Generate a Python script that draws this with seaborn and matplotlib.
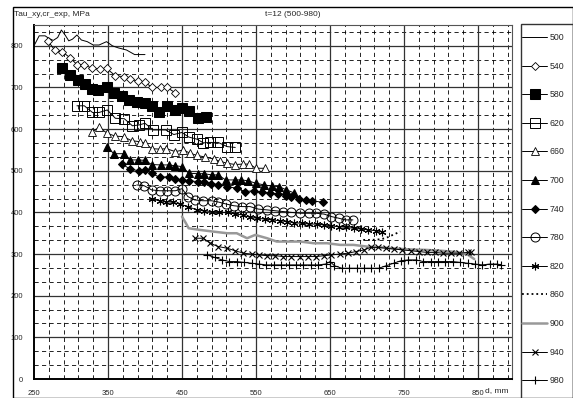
import numpy as np
import pandas as pd
import matplotlib
matplotlib.use("Agg")
import matplotlib.pyplot as plt
import seaborn as sns
from matplotlib.patches import Rectangle

sns.set_style("white")
plt.rcParams['font.family'] = ['Liberation Sans', 'DejaVu Sans']

title_left = "Tau_xy,cr_exp, MPa"
title_center = "t=12 (500-980)"
x_label = "d, mm"
x_ticks = [250, 350, 450, 550, 650, 750, 850]
y_ticks = [0, 100, 200, 300, 400, 500, 600, 700, 800]

d500 = [250, 257, 265, 270, 276, 282, 287, 292, 297, 302, 308, 314, 322, 330, 338, 348, 356, 364, 375, 386, 400]
t500 = [800, 824, 824, 818, 813, 820, 838, 826, 812, 816, 826, 814, 810, 802, 802, 810, 800, 795, 790, 779, 779]

d540 = [269, 278, 288, 299, 308, 317, 328, 339, 348, 360, 371, 380, 391, 400, 410, 421, 430, 441]
t540 = [811, 790, 786, 771, 755, 754, 747, 744, 746, 728, 726, 720, 715, 712, 700, 700, 700, 687]

d580 = [288, 299, 310, 319, 328, 337, 348, 358, 369, 378, 389, 400, 410, 419, 430, 441, 450, 459, 471, 482]
t580 = [747, 731, 717, 709, 697, 693, 700, 686, 680, 670, 666, 662, 656, 640, 656, 646, 651, 643, 627, 630]

d620 = [308, 318, 329, 338, 349, 360, 372, 383, 392, 400, 411, 428, 439, 450, 459, 470, 479, 488, 499, 511, 522]
t620 = [656, 656, 640, 640, 646, 626, 625, 608, 610, 614, 598, 598, 587, 592, 581, 576, 567, 568, 568, 558, 556]

d660 = [328, 338, 349, 360, 371, 382, 393, 400, 409, 420, 429, 441, 452, 461, 470, 481, 493, 501, 511, 522, 532, 541, 550, 562]
t660 = [593, 604, 590, 583, 582, 572, 570, 566, 553, 552, 553, 546, 550, 542, 537, 533, 528, 523, 518, 515, 516, 516, 506, 506]

d700 = [348, 358, 371, 380, 390, 400, 409, 421, 432, 441, 450, 459, 471, 480, 490, 499, 509, 521, 530, 539, 550, 561, 572, 581, 590, 601]
t700 = [558, 541, 541, 526, 526, 525, 515, 514, 514, 512, 510, 494, 493, 493, 490, 490, 478, 478, 478, 476, 470, 466, 463, 462, 455, 447]

d740 = [369, 380, 392, 400, 409, 420, 432, 441, 450, 459, 471, 480, 489, 499, 511, 524, 535, 547, 558, 569, 580, 590, 598, 608, 617, 626, 641]
t740 = [516, 504, 500, 501, 494, 484, 486, 480, 478, 476, 474, 474, 469, 467, 462, 458, 450, 452, 448, 447, 444, 440, 438, 433, 430, 428, 424]

d780 = [389, 399, 409, 420, 430, 441, 450, 458, 467, 478, 490, 499, 510, 520, 531, 542, 553, 565, 576, 587, 598, 610, 621, 631, 642, 652, 662, 671, 681]
t780 = [466, 464, 454, 452, 452, 452, 457, 438, 430, 428, 428, 425, 420, 416, 414, 414, 408, 406, 404, 402, 400, 398, 398, 398, 396, 390, 386, 382, 382]

d820 = [409, 420, 429, 438, 447, 458, 470, 480, 490, 500, 512, 522, 532, 542, 552, 562, 572, 582, 592, 602, 612, 622, 632, 642, 652, 662, 672, 682, 692, 702, 712, 720]
t820 = [432, 428, 426, 424, 420, 414, 406, 404, 402, 400, 400, 396, 394, 388, 386, 384, 382, 380, 378, 375, 374, 372, 372, 370, 368, 366, 364, 362, 360, 358, 356, 354]

d860 = [695, 705, 715, 725, 735, 745]
t860 = [334, 334, 335, 338, 346, 354]

d900 = [450, 455, 459, 474, 492, 511, 524, 538, 549, 565, 578, 596, 610, 628, 646, 664, 682, 700, 720, 740, 760, 780, 800, 820, 835, 845]
t900 = [390, 375, 362, 358, 354, 350, 350, 338, 346, 338, 330, 330, 330, 326, 326, 322, 322, 318, 316, 313, 311, 310, 308, 305, 300, 288]

d940 = [467, 479, 488, 499, 511, 522, 533, 544, 554, 565, 576, 587, 598, 609, 620, 631, 642, 652, 663, 674, 685, 696, 705, 715, 726, 737, 748, 759, 770, 781, 792, 803, 814, 825, 836, 841]
t940 = [338, 338, 326, 318, 314, 308, 302, 300, 298, 296, 296, 294, 294, 294, 294, 294, 296, 298, 300, 302, 306, 310, 316, 316, 314, 312, 310, 308, 306, 304, 304, 302, 302, 302, 304, 304]

d980 = [484, 494, 504, 514, 524, 534, 544, 554, 564, 574, 584, 594, 604, 614, 624, 634, 644, 650, 656, 666, 676, 686, 696, 706, 716, 726, 736, 746, 756, 766, 776, 786, 796, 806, 816, 826, 836, 846, 856, 866, 876, 881]
t980 = [298, 292, 286, 282, 282, 280, 278, 276, 274, 274, 274, 274, 274, 274, 274, 274, 276, 282, 272, 266, 266, 266, 266, 266, 266, 272, 278, 284, 286, 286, 282, 282, 282, 282, 282, 280, 278, 276, 274, 276, 276, 274]

series = [
    ("500", d500, t500, dict(color="black", lw=0.7, marker=None)),
    ("540", d540, t540, dict(color="black", lw=0.7, marker="D", ms=3.6, mfc="white", mec="black", mew=0.6)),
    ("580", d580, t580, dict(color="black", lw=0.7, marker="s", ms=7.0, mfc="black", mec="black")),
    ("620", d620, t620, dict(color="black", lw=0.7, marker="s", ms=7.0, mfc="none", mec="black", mew=0.7)),
    ("660", d660, t660, dict(color="black", lw=0.7, marker="^", ms=5.5, mfc="white", mec="black", mew=0.6)),
    ("700", d700, t700, dict(color="black", lw=0.7, marker="^", ms=5.2, mfc="black", mec="black")),
    ("740", d740, t740, dict(color="black", lw=0.7, marker="D", ms=4.2, mfc="black", mec="black")),
    ("780", d780, t780, dict(color="black", lw=0.7, marker="o", ms=6.5, mfc="none", mec="black", mew=0.7)),
    ("820", d820, t820, dict(color="black", lw=0.7, marker=(6, 2, 0), ms=5.5, mec="black", mew=0.8)),
    ("860", d860, t860, dict(color="black", lw=1.3, ls=":", marker=None)),
    ("900", d900, t900, dict(color="#999999", lw=1.8, marker=None)),
    ("940", d940, t940, dict(color="black", lw=0.7, marker="x", ms=4.5, mec="black", mew=0.8)),
    ("980", d980, t980, dict(color="black", lw=0.7, marker="+", ms=5.5, mec="black", mew=0.8)),
]

W, H = 573, 398
fig = plt.figure(figsize=(W / 100, H / 100), dpi=100)
ax = fig.add_axes([34 / W, 1 - 379 / H, (512 - 34) / W, (379 - 25) / H])

# grid
xmin, xmax, ymin, ymax = 250, 896, 0, 850
minor_x = [v for v in range(270, 896, 20) if (v - 250) % 100 != 0]
minor_y = [k * 100 / 3 for k in range(1, 26) if k % 3 != 0]
for v in minor_x:
    ax.axvline(v, color="black", lw=0.6, ls=(0, (5, 4)), zorder=0.5)
for v in minor_y:
    ax.axhline(v, color="black", lw=0.6, ls=(0, (5, 4)), zorder=0.5)
for v in x_ticks[1:]:
    ax.axvline(v, color="#333333", lw=0.9, zorder=0.6)
for v in y_ticks[1:]:
    ax.axhline(v, color="#333333", lw=0.9, zorder=0.6)

for name, xs, ys, st in series:
    df = pd.DataFrame({"d": xs, "t": ys})
    kw = dict(st)
    ls = kw.pop("ls", "-")
    sns.lineplot(data=df, x="d", y="t", ax=ax, linestyle=ls, label=name, legend=False,
                 estimator=None, sort=False, zorder=3, **kw)

ax.set_xlim(xmin, xmax)
ax.set_ylim(ymin, ymax)
ax.set_xticks(x_ticks)
ax.set_yticks(y_ticks)
ax.tick_params(axis="both", labelsize=5.5, length=2, width=0.6, pad=2, color="black")
ax.tick_params(axis="x", pad=6)
ax.tick_params(axis="y", pad=6)
ax.set_xlabel("")
ax.set_ylabel("")
for s in ["left", "bottom"]:
    ax.spines[s].set_linewidth(1.4)
    ax.spines[s].set_color("black")
for s in ["top", "right"]:
    ax.spines[s].set_linewidth(0.8)
    ax.spines[s].set_color("#555555")

fig.text(14 / W, 1 - 15 / H, title_left, fontsize=6, va="center", ha="left")
fig.text(293 / W, 1 - 15 / H, title_center, fontsize=6, va="center", ha="center")
fig.text(497 / W, 1 - 391 / H, x_label, fontsize=6, va="center", ha="center")

# outer frame
fig.patches.append(Rectangle((13 / W, 0), 1 - 13 / W - 0.5 / W, 1 - 7 / H, transform=fig.transFigure,
                             fill=False, edgecolor="black", lw=1.0))
# legend frame
fig.patches.append(Rectangle((521 / W, -0.01), 1 - 521 / W - 0.5 / W, 1 - 24 / H + 0.01, transform=fig.transFigure,
                             fill=False, edgecolor="#333333", lw=1.0))

h, l = ax.get_legend_handles_labels()
leg = fig.legend(h, l, loc="upper left", bbox_to_anchor=(522 / W, 1 - 33 / H), fontsize=6.3,
                 frameon=False, handlelength=2.9, handletextpad=0.25, labelspacing=2.24,
                 borderpad=0, borderaxespad=0)

fig.savefig("out.png", dpi=100)
